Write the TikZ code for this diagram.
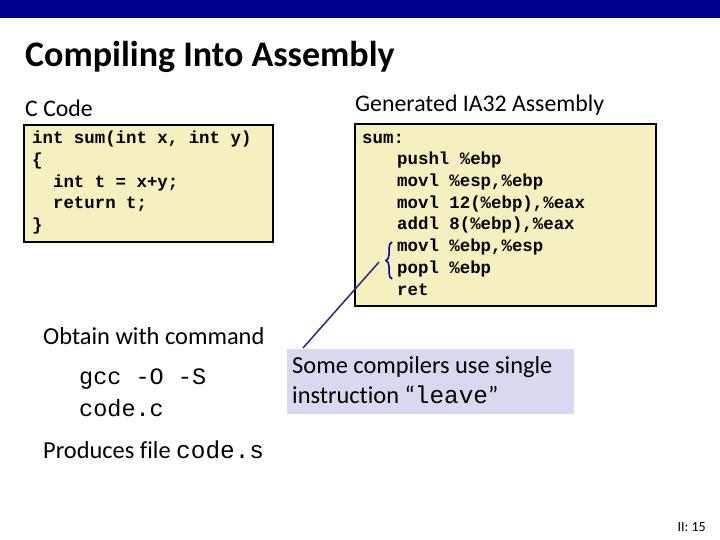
\documentclass[tikz,border=0pt]{standalone}
\usepackage{fontspec}
\setmainfont[Ligatures=NoCommon]{Carlito}
\setmonofont{Liberation Mono}
\usetikzlibrary{decorations.pathreplacing}
\definecolor{navy}{HTML}{000090}
\definecolor{pale}{HTML}{F5F0C0}
\definecolor{lav}{HTML}{D8D8F0}
\definecolor{lnc}{HTML}{2A2A80}
\begin{document}
\begin{tikzpicture}[x=1pt,y=-1pt,
  codebox/.style={draw=black,line width=1.5pt,fill=pale},
  code/.style={anchor=west,inner sep=0,font=\fontsize{17.4}{20}\selectfont\ttfamily\bfseries},
  lbl/.style={anchor=west,inner sep=0,font=\fontsize{24.4}{28}\selectfont},
  mono/.style={anchor=west,inner sep=0,font=\fontsize{23.5}{29}\selectfont\ttfamily}]
\useasboundingbox (0,0) rectangle (720,540);
\fill[navy] (0,0) rectangle (720,18);
\node[anchor=west,inner sep=0,font=\fontsize{36}{40}\selectfont\bfseries] (title) at (25,57) {Compiling Into Assembly};
\node[lbl,font=\fontsize{23.8}{28}\selectfont] (cc) at (25,108) {C Code};
\node[lbl,font=\fontsize{23.8}{28}\selectfont] (ga) at (355,105) {Generated IA32 Assembly};
\draw[codebox] (24,125) rectangle (273,242);
\draw[codebox] (355,124) rectangle (656,306);
\node[code] (c1) at (32,139) {int sum(int x, int y)};
\node[code] (c2) at (32,161) {\{};
\node[code] (c3) at (32,183) {\ \ int t = x+y;};
\node[code] (c4) at (32,204) {\ \ return t;};
\node[code] (c5) at (32,226) {\}};
\node[code] (a1) at (362,139) {sum:};
\node[code] (a2) at (397,160) {pushl \%ebp};
\node[code] (a3) at (397,182) {movl \%esp,\%ebp};
\node[code] (a4) at (397,204) {movl 12(\%ebp),\%eax};
\node[code] (a5) at (397,225) {addl 8(\%ebp),\%eax};
\node[code] (a6) at (397,247) {movl \%ebp,\%esp};
\node[code] (a7) at (397,269) {popl \%ebp};
\node[code] (a8) at (397,290) {ret};
\draw[navy,line width=1.5pt,decorate,decoration={brace,amplitude=6pt}] (392,279) -- (392,242) coordinate[pos=0.5] (br);
\node[lbl] (obt) at (43,336) {Obtain with command};
\node[mono] (g1) at (79,379) {gcc -O -S};
\node[mono] (g2) at (79,408) {code.c};
\node[lbl] (prod) at (43,450) {Produces file \texttt{code.s}};
\node[fill=lav,minimum width=287pt,minimum height=65pt,inner sep=0,anchor=north west] (note) at (287,349) {};
\node[lbl] (n1) at (292,367) {Some compilers use single};
\node[lbl] (n2) at (292,395) {instruction “\texttt{leave}”};
\coordinate (ls) at (303,348);
\draw[lnc,line width=1.5pt] (ls) -- (379,262);
\node[anchor=east,inner sep=0,font=\fontsize{14}{16}\selectfont] (pg) at (706,527) {II: 15};
\end{tikzpicture}
\end{document}
